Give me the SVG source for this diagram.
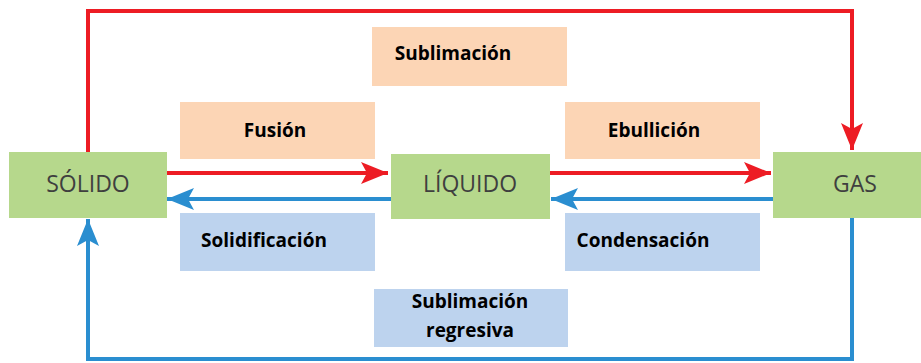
<svg xmlns="http://www.w3.org/2000/svg" width="921" height="363" viewBox="0 0 921 363">
<style>
.node{fill:#b6d88c}
.ntxt{font-family:"Open Sans","Noto Sans",sans-serif;font-size:23px;fill:#3f3f3f;text-anchor:middle}
.hot{fill:#fcd5b5}
.cold{fill:#bdd3ee}
.ltxt{font-family:"Open Sans","Noto Sans",sans-serif;font-size:19px;font-weight:bold;fill:#000;text-anchor:middle}
.red{stroke:#ed1c24;stroke-width:4;fill:none}
.blue{stroke:#2a8ed0;stroke-width:4;fill:none}
</style>
<defs>
<marker id="ar" markerUnits="userSpaceOnUse" markerWidth="28" markerHeight="22" refX="27" refY="11" orient="auto"><path d="M0,0 L27,11 L0,22 L6,11 Z" fill="#ed1c24"/></marker>
<marker id="ab" markerUnits="userSpaceOnUse" markerWidth="28" markerHeight="22" refX="27" refY="11" orient="auto"><path d="M0,0 L27,11 L0,22 L6,11 Z" fill="#2a8ed0"/></marker>
</defs>
<g id="labels">
<g id="lbl-sublimacion"><rect class="hot" x="372" y="27" width="195" height="59"/><text class="ltxt" x="453" y="60">Sublimación</text></g>
<g id="lbl-fusion"><rect class="hot" x="180" y="102" width="195" height="57"/><text class="ltxt" x="275" y="137">Fusión</text></g>
<g id="lbl-ebullicion"><rect class="hot" x="565" y="102" width="195" height="57"/><text class="ltxt" x="654" y="137">Ebullición</text></g>
<g id="lbl-solidificacion"><rect class="cold" x="180" y="213" width="195" height="58"/><text class="ltxt" x="264" y="247">Solidificación</text></g>
<g id="lbl-condensacion"><rect class="cold" x="565" y="213" width="195" height="58"/><text class="ltxt" x="643" y="247">Condensación</text></g>
<g id="lbl-sublimacion-regresiva"><rect class="cold" x="374" y="289" width="194" height="58"/><text class="ltxt" x="470" y="308">Sublimación</text><text class="ltxt" x="470" y="337">regresiva</text></g>
</g>
<g id="connectors">
<path class="red" d="M88,152 V11 H852 V150" marker-end="url(#ar)"/>
<path class="red" d="M167,173 H388" marker-end="url(#ar)"/>
<path class="red" d="M550,173 H771" marker-end="url(#ar)"/>
<path class="blue" d="M391,199 H167" marker-end="url(#ab)"/>
<path class="blue" d="M773,199 H551" marker-end="url(#ab)"/>
<path class="blue" d="M852,218 V359 H88 V219" marker-end="url(#ab)"/>
</g>
<g id="solido"><rect class="node" x="9" y="152" width="158" height="66"/><text class="ntxt" x="88" y="192">SÓLIDO</text></g>
<g id="liquido"><rect class="node" x="391" y="154" width="159" height="65"/><text class="ntxt" x="470" y="192">LÍQUIDO</text></g>
<g id="gas"><rect class="node" x="773" y="152" width="148" height="66"/><text class="ntxt" x="855" y="192">GAS</text></g>
</svg>
